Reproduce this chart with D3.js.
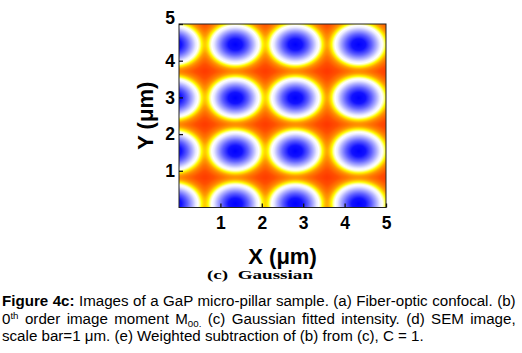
<!DOCTYPE html>
<html><head><meta charset="utf-8">
<script src="https://cdn.jsdelivr.net/npm/d3@7"></script>
<style>body{margin:0;background:#fff}svg{display:block}</style>
</head><body>
<svg id="chart" width="522" height="353"></svg>
<script>
// ---- data ----
const xTicks = [1, 2, 3, 4, 5];
const yTicks = [1, 2, 3, 4, 5];
const xDomain = [0, 5];
const yDomain = [0, 5];
// centres of the fitted Gaussian spots (µm)
const spotX = [-0.11, 1.36, 2.81, 4.34, 5.8];
const spotY = [0.09, 1.53, 2.98, 4.44, 5.9];
// spot half-widths (µm) at the white ring
const spotRX = [0.6];
const spotRY = [0.545];
// colour map: normalised distance -> colour
const cmapStops  = [0, 0.28, 0.52, 0.72, 0.86, 0.95, 1.02, 1.09, 1.15, 1.23, 1.34, 1.52, 1.8];
const cmapColors = ["#0000ff", "#1212ff", "#6060ff", "#b0b0ff", "#ececff", "#ffffff", "#ffffa0", "#ffff00", "#ffd200", "#ff9c00", "#ff7600", "#ff5000", "#ff3400"];
const xLabel = "X (\u03bcm)";
const yLabel = "Y (\u03bcm)";
const subtitle = "(c)  Gaussian";
const captionLines = [
  [{t:"Figure 4c:", b:true}, {t:" Images of a GaP micro-pillar sample. (a) Fiber-optic confocal. (b)"}],
  [{t:"0"}, {t:"th", sup:true}, {t:" order image moment M"}, {t:"00.", sub:true}, {t:" (c) Gaussian fitted intensity. (d) SEM image,"}],
  [{t:"scale bar=1 \u03bcm. (e) Weighted subtraction of (b) from (c), C = 1."}]
];

// ---- layout ----
const L = 179, R = 386, T = 24, B = 207.5;
const svg = d3.select("#chart");
const x = d3.scaleLinear().domain(xDomain).range([L, R]);
const y = d3.scaleLinear().domain(yDomain).range([B, T]);
const cmap = d3.scaleLinear().domain(cmapStops).range(cmapColors).interpolate(d3.interpolateRgb).clamp(true);

// ---- heatmap ----
const W = Math.round(R - L), H = Math.round(B - T);
const canvas = document.createElement("canvas");
canvas.width = W; canvas.height = H;
const ctx = canvas.getContext("2d");
const img = ctx.createImageData(W, H);
const k2 = 0.245;
for (let j = 0; j < H; j++) {
  const yv = y.invert(T + j + 0.5);
  for (let i = 0; i < W; i++) {
    const xv = x.invert(L + i + 0.5);
    const r2 = [];
    for (const sx of spotX) for (const sy of spotY) {
      const dx = (xv - sx) / spotRX[0], dy = (yv - sy) / spotRY[0];
      r2.push(dx*dx + dy*dy);
    }
    const m = d3.min(r2);
    const s = d3.sum(r2, d => Math.exp(-(d - m) / k2));
    const rho = Math.sqrt(Math.max(0, m - k2 * Math.log(s)));
    const c = d3.rgb(cmap(rho));
    const p = 4 * (j * W + i);
    img.data[p] = c.r; img.data[p+1] = c.g; img.data[p+2] = c.b; img.data[p+3] = 255;
  }
}
ctx.putImageData(img, 0, 0);
svg.append("image").attr("x", L).attr("y", T).attr("width", R - L).attr("height", B - T)
  .attr("preserveAspectRatio", "none").attr("href", canvas.toDataURL());

// ---- frame & axes ----
svg.append("rect").attr("x", L).attr("y", T).attr("width", R - L).attr("height", B - T)
  .attr("fill", "none").attr("stroke", "#222").attr("stroke-width", 1);

const fmt = d3.format("d");
const xAxis = svg.append("g").attr("transform", `translate(0,${B})`)
  .call(d3.axisBottom(x).tickValues(xTicks).tickFormat(fmt).tickSizeInner(-4).tickSizeOuter(0).tickPadding(9));
const yAxis = svg.append("g").attr("transform", `translate(${L},0)`)
  .call(d3.axisLeft(y).tickValues(yTicks).tickFormat(fmt).tickSizeInner(-4).tickSizeOuter(0).tickPadding(6));
[xAxis, yAxis].forEach(g => {
  g.select(".domain").remove();
  g.selectAll(".tick line").attr("stroke", "#111").attr("stroke-width", 1.3);
  g.selectAll(".tick text").attr("font-family", "Arial, 'Liberation Sans', sans-serif")
    .attr("font-weight", "bold").attr("font-size", 17.5).attr("fill", "#000");
});
xAxis.selectAll(".tick text").attr("dy", null).attr("y", 21.8);
yAxis.selectAll(".tick text").attr("x", -4);
yAxis.selectAll(".tick").filter(d => d === yDomain[1]).select("text").attr("y", -6);

svg.append("text").attr("x", (L + R) / 2).attr("y", 264).attr("text-anchor", "middle")
  .attr("font-family", "Arial, 'Liberation Sans', sans-serif").attr("font-weight", "bold")
  .attr("font-size", 22).text(xLabel);
svg.append("text").attr("transform", `translate(153,${(T + B) / 2}) rotate(-90)`).attr("text-anchor", "middle")
  .attr("font-family", "Arial, 'Liberation Sans', sans-serif").attr("font-weight", "bold")
  .attr("font-size", 22).text(yLabel);

svg.append("text").attr("x", 207).attr("y", 279)
  .attr("font-family", "'Liberation Serif', 'Times New Roman', serif").attr("font-weight", "bold")
  .attr("font-size", 13.5).attr("textLength", 106).attr("lengthAdjust", "spacingAndGlyphs")
  .attr("xml:space", "preserve").style("white-space", "pre").text(subtitle);

// ---- caption ----
const capY = [305.7, 323.5, 341.3];
const capTargets = [514, 514, null];
const capG = captionLines.map((parts, li) => {
  const t = svg.append("text").attr("x", 0).attr("y", 0)
    .attr("font-family", "Arial, 'Liberation Sans', sans-serif").attr("font-size", 14).attr("fill", "#000")
    .style("white-space", "pre");
  parts.forEach((p, i) => {
    const ts = t.append("tspan").text(p.t);
    const prev = parts[i - 1];
    let dy = 0;
    if (prev && prev.sup) dy += 5;
    if (prev && prev.sub) dy -= 3.5;
    if (p.b) ts.attr("font-weight", "bold");
    if (p.sup) { ts.attr("font-size", 9); dy -= 5; }
    if (p.sub) { ts.attr("font-size", 9); dy += 3.5; }
    if (dy) ts.attr("dy", dy);
  });
  return t;
});
const w3 = capG[2].node().getComputedTextLength();
const kx = 422 / w3;
capG.forEach((t, li) => {
  if (capTargets[li]) {
    const w = t.node().getComputedTextLength();
    const txt = captionLines[li].map(p => p.t).join("");
    const n = (txt.match(/ /g) || []).length;
    t.style("word-spacing", ((capTargets[li] / kx - w) / n) + "px");
  }
  t.attr("transform", `translate(2,${capY[li]}) scale(${kx},1)`);
});
</script>
</body></html>
